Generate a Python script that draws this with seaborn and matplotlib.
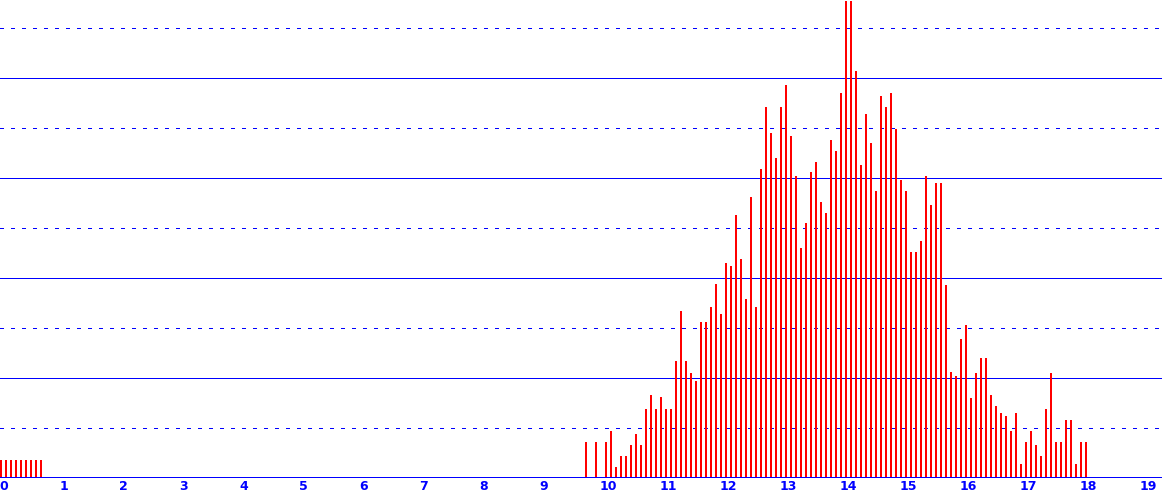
import matplotlib
matplotlib.use("Agg")
import matplotlib.pyplot as plt
import matplotlib.transforms as mtransforms
import seaborn as sns
import numpy as np
import pandas as pd

# bar heights (screen units, grid every 50), one bar per 1/12 unit
bin_width = 1 / 12
left_start = 0
left_heights = [18, 18, 18, 18, 18, 18, 18, 18, 18]
main_start = 117
main_heights = [
    36, 0, 36, 0, 36, 47, 11, 22, 22, 33, 44, 33, 69, 83, 69, 81, 69, 69,
    117, 167, 117, 105, 97, 156, 156, 171, 194, 164, 215,
    212, 263, 219, 179, 281, 171, 309, 371, 345, 320, 371, 393, 342, 302,
    230, 255, 306, 316, 276, 265, 338, 327, 385,
    477, 477, 407, 313, 364, 335, 287, 382, 371, 385, 349, 298, 287, 226,
    226, 237, 302, 273, 295, 295, 193, 106, 102, 139,
    153, 80, 105, 120, 120, 83, 72, 65, 62, 47, 65, 14, 36, 47, 33, 22,
    69, 105, 36, 36, 58, 58, 14, 36, 36,
]
x_ticks = list(range(0, 20))

bins = list(range(left_start, left_start + len(left_heights))) + \
    list(range(main_start, main_start + len(main_heights)))
df = pd.DataFrame({
    "x": [(k - 0.5) * bin_width for k in bins],
    "count": left_heights + main_heights,
})

fig = plt.figure(figsize=(11.62, 4.98), dpi=100)
ax = fig.add_axes([0, 19.7 / 498, 1, 478.3 / 498])

sns.barplot(data=df, x="x", y="count", native_scale=True, width=0.4,
            color="red", saturation=1, errorbar=None, linewidth=0, ax=ax)
for p in ax.patches:
    p.set_antialiased(False)

blue = "#0000ff"
for y in range(50, 500, 50):
    if y % 100 == 0:
        ax.axhline(y, color=blue, lw=0.72, zorder=0, antialiased=False)
    else:
        ax.axhline(y, color=blue, lw=0.72, ls=(0, (3, 7)), zorder=0,
                   antialiased=False)
ax.axhline(0, color=blue, lw=1.44, zorder=3, antialiased=False)

ax.set_xlim(-3.5 / 60, (1162 - 3.5) / 60)
ax.set_ylim(0, 478.3)
ax.set_xticks(x_ticks)
ax.set_xticklabels([str(t) for t in x_ticks])
ax.tick_params(axis="x", length=0, pad=1.5, labelsize=9, labelcolor=blue)
shift = mtransforms.ScaledTranslation(-4 / 100, 0, fig.dpi_scale_trans)
for lbl in ax.get_xticklabels():
    lbl.set_horizontalalignment("left")
    lbl.set_fontweight("bold")
    lbl.set_transform(lbl.get_transform() + shift)
ax.set_yticks([])
ax.set_xlabel("")
ax.set_ylabel("")
for s in ax.spines.values():
    s.set_visible(False)
ax.patch.set_alpha(0)

fig.savefig("out.png", dpi=100)
